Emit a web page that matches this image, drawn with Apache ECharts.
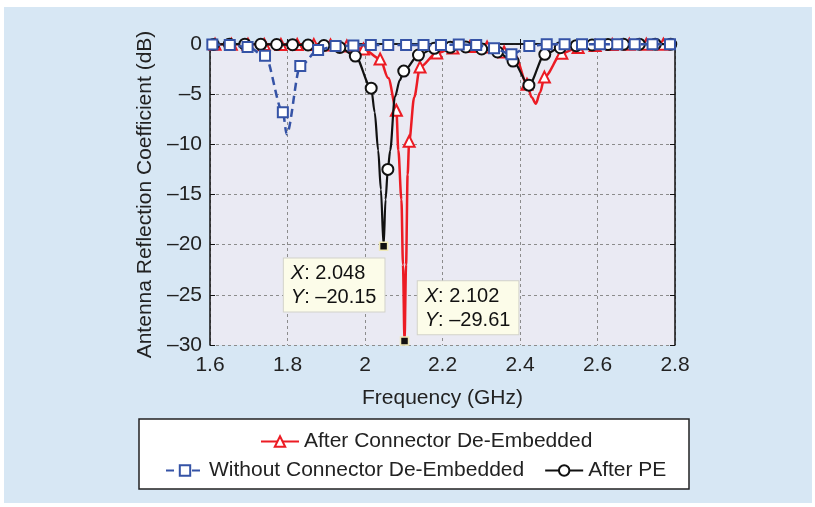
<!DOCTYPE html>
<html><head><meta charset="utf-8">
<script src="https://cdn.jsdelivr.net/npm/echarts@6/dist/echarts.min.js"></script>
<style>html,body{margin:0;padding:0;background:#fff}#c{width:815px;height:507px}</style>
</head><body><div id="c"></div>
<script>
// ---------- data ----------
const seriesNames = ['After Connector De-Embedded', 'Without Connector De-Embedded', 'After PE'];
const xTickValues = [1.6, 1.8, 2.0, 2.2, 2.4, 2.6, 2.8];
const yTickValues = [0, -5, -10, -15, -20, -25, -30];

// After Connector De-Embedded (red): marker points
const redMarkF = [1.613,1.655,1.698,1.740,1.783,1.825,1.868,1.911,1.953,1.996,2.039,2.081,2.114,2.142,2.185,2.227,2.271,2.315,2.359,2.418,2.463,2.508,2.550,2.594,2.638,2.682,2.726,2.770];
const redMarkV = [-0.02,-0.03,-0.03,-0.04,-0.05,-0.05,-0.06,-0.1,-0.2,-0.5,-1.5,-6.6,-9.7,-2.3,-0.9,-0.4,-0.25,-0.3,-0.8,-4.0,-3.3,-0.93,-0.35,-0.15,-0.05,-0.03,-0.02,-0.02];
// red: extra line-only points
const redLineF = [2.060,2.086,2.094,2.098,2.102,2.106,2.110,2.127,2.387,2.430,2.441,2.452];
const redLineV = [-3.4,-10.6,-15.5,-22,-29.61,-22,-13,-5.3,-1.1,-5.3,-5.95,-4.8];

// Without Connector De-Embedded (blue dashed): marker points
const blueMarkF = [1.606,1.651,1.697,1.742,1.788,1.833,1.879,1.924,1.970,2.015,2.060,2.106,2.151,2.196,2.242,2.287,2.333,2.378,2.424,2.469,2.515,2.560,2.606,2.651,2.696,2.742,2.787];
const blueMarkV = [-0.05,-0.1,-0.3,-1.17,-6.8,-2.2,-0.6,-0.2,-0.15,-0.1,-0.1,-0.1,-0.1,-0.1,-0.05,-0.1,-0.43,-1.03,-0.2,-0.03,-0.02,-0.02,-0.02,-0.02,-0.02,-0.02,-0.02];
const blueLineF = [1.798];
const blueLineV = [-9.0];

// After PE (black): marker points
const blackMarkF = [1.609,1.650,1.690,1.731,1.772,1.813,1.853,1.894,1.935,1.975,2.016,2.059,2.100,2.138,2.179,2.220,2.260,2.301,2.342,2.382,2.423,2.464,2.504,2.545,2.586,2.627,2.667,2.708,2.749,2.789];
const blackMarkV = [-0.05,-0.02,-0.02,-0.03,-0.05,-0.07,-0.1,-0.15,-0.35,-1.2,-4.4,-12.5,-2.7,-1.1,-0.43,-0.33,-0.3,-0.5,-0.8,-1.7,-4.1,-1.03,-0.37,-0.17,-0.1,-0.05,-0.03,-0.02,-0.02,-0.02];
const blackLineF = [2.025,2.034,2.041,2.048,2.053,2.065,2.077,2.090];
const blackLineV = [-6.8,-10.6,-14.5,-20.15,-15.5,-10.6,-5.3,-3.6];

// data tips
const tipBlack = [2.048, -20.15];
const tipRed = [2.102, -29.61];

// ---------- build ----------
function build(mf, mv, lf, lv) {
  const out = [];
  mf.forEach((f, i) => out.push({ value: [f, mv[i]] }));
  lf.forEach((f, i) => out.push({ value: [f, lv[i]], symbol: 'none' }));
  out.sort((a, b) => a.value[0] - b.value[0]);
  return out;
}
const FONT = "'Liberation Sans', Arial, Helvetica, sans-serif";
const fmtNum = v => (v < 0 ? '\u2013' + Math.abs(v) : String(v));
const tipLabel = (pt, pos) => ({
  show: true,
  position: pos,
  align: 'left',
  verticalAlign: 'top',
  formatter: '{i|X}{n|: ' + pt[0].toFixed(3) + '}\n{i|Y}{n|: ' + fmtNum(pt[1]) + '}',
  backgroundColor: '#fcfce9',
  borderColor: '#d2d2ca',
  borderWidth: 1,
  padding: [3, 8, 2, 7],
  rich: {
    i: { fontStyle: 'italic', fontSize: 20, fontFamily: FONT, color: '#111', lineHeight: 24 },
    n: { fontSize: 20, fontFamily: FONT, color: '#111', lineHeight: 24 }
  }
});
const tipMark = (pt, pos) => ({
  symbol: 'rect',
  symbolSize: 8,
  itemStyle: { color: '#111', borderColor: '#efe9b8', borderWidth: 1.5 },
  z: 10,
  data: [{ coord: pt, label: tipLabel(pt, pos) }],
  animation: false
});

const chart = echarts.init(document.getElementById('c'), null, { renderer: 'canvas' });
const axisCommon = {
  axisLine: { show: true, lineStyle: { color: '#111', width: 1.5 } },
  axisTick: { show: true, inside: true, length: 5, lineStyle: { color: '#111', width: 1 } },
};
chart.setOption({
  animation: false,
  backgroundColor: '#ffffff',
  graphic: [
    { type: 'rect', shape: { x: 4, y: 7, width: 808, height: 496 }, style: { fill: '#d7e7f4' }, z: -10, silent: true },
    { type: 'rect', shape: { x: 139, y: 419, width: 550, height: 70 }, style: { fill: '#ffffff', stroke: '#222', lineWidth: 1.5 }, z: -5, silent: true }
  ],
  grid: { left: 210, right: 140, top: 44, bottom: 162, show: true, backgroundColor: '#eaeaf3', borderWidth: 0 },
  legend: [
    { data: [seriesNames[0]], left: 255, top: 426, itemWidth: 38, itemHeight: 13, itemGap: 20,
      textStyle: { fontSize: 21, color: '#222', fontFamily: FONT } },
    { data: [seriesNames[1], seriesNames[2]], left: 160, top: 455, itemWidth: 38, itemHeight: 13, itemGap: 20,
      textStyle: { fontSize: 21, color: '#222', fontFamily: FONT } }
  ],
  xAxis: [
    Object.assign({
      type: 'value', min: xTickValues[0], max: xTickValues[xTickValues.length - 1], interval: 0.2,
      name: 'Frequency (GHz)', nameLocation: 'middle', nameGap: 43,
      nameTextStyle: { fontSize: 21, color: '#222', fontFamily: FONT },
      axisLabel: { fontSize: 21, color: '#222', fontFamily: FONT, margin: 10, formatter: v => String(+v.toFixed(1)) },
      splitLine: { show: true, lineStyle: { color: '#8c8c8c', width: 1, type: [3, 3] } }
    }, axisCommon),
    Object.assign({
      type: 'value', position: 'top', min: xTickValues[0], max: xTickValues[xTickValues.length - 1], interval: 0.2,
      axisLabel: { show: false }, splitLine: { show: false }
    }, axisCommon)
  ],
  yAxis: [
    Object.assign({
      type: 'value', min: yTickValues[yTickValues.length - 1], max: yTickValues[0], interval: 5,
      name: 'Antenna Reflection Coefficient (dB)', nameLocation: 'middle', nameGap: 48,
      nameTextStyle: { fontSize: 21, color: '#222', fontFamily: FONT },
      axisLabel: { fontSize: 21, color: '#222', fontFamily: FONT, margin: 8, formatter: fmtNum },
      splitLine: { show: true, lineStyle: { color: '#8c8c8c', width: 1, type: [3, 3] } }
    }, axisCommon),
    Object.assign({
      type: 'value', position: 'right', min: yTickValues[yTickValues.length - 1], max: yTickValues[0], interval: 5,
      axisLabel: { show: false }, splitLine: { show: false }
    }, axisCommon)
  ],
  series: [
    {
      name: seriesNames[0], type: 'line', color: '#ec1c24',
      data: build(redMarkF, redMarkV, redLineF, redLineV),
      smooth: 0.3, smoothMonotone: 'x', clip: false, showAllSymbol: true,
      symbol: 'emptyTriangle', symbolSize: 11,
      itemStyle: { borderWidth: 1.5 },
      lineStyle: { width: 2.5, color: '#ec1c24' },
      markPoint: tipMark(tipRed, [18, -55]),
      z: 3
    },
    {
      name: seriesNames[2], type: 'line', color: '#111111',
      data: build(blackMarkF, blackMarkV, blackLineF, blackLineV),
      smooth: 0.3, smoothMonotone: 'x', clip: false, showAllSymbol: true,
      symbol: 'emptyCircle', symbolSize: 11,
      itemStyle: { borderWidth: 1.5 },
      lineStyle: { width: 2.2, color: '#111111' },
      markPoint: tipMark(tipBlack, [-95, 17]),
      z: 4
    },
    {
      name: seriesNames[1], type: 'line', color: '#3553a6',
      data: build(blueMarkF, blueMarkV, blueLineF, blueLineV),
      smooth: 0.3, smoothMonotone: 'x', clip: false, showAllSymbol: true,
      symbol: 'emptyRect', symbolSize: 10,
      itemStyle: { borderWidth: 1.8 },
      lineStyle: { width: 2.5, color: '#3553a6', type: [8, 5] },
      z: 5
    }
  ]
});
</script>
</body></html>
